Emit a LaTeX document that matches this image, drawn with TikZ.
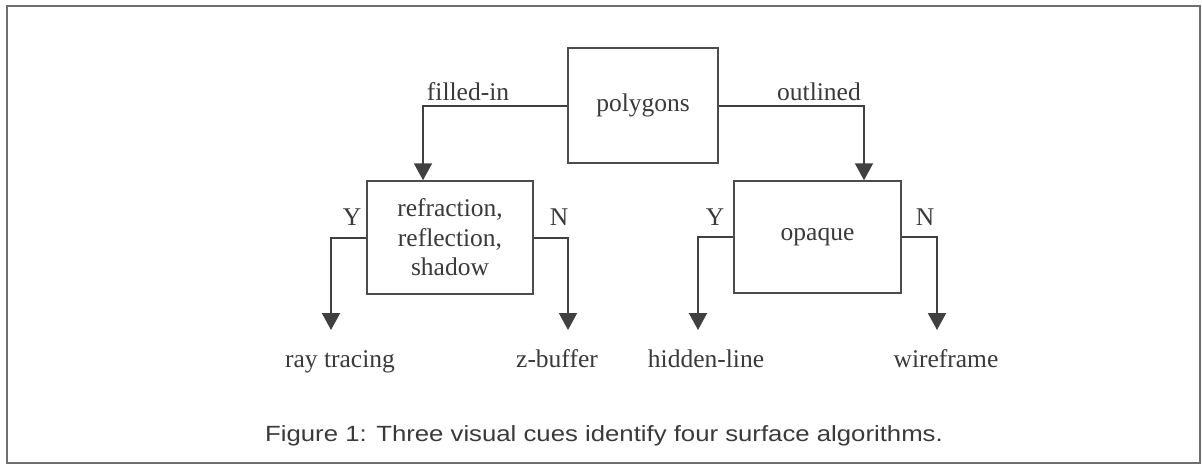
\documentclass[tikz,border=0pt]{standalone}
\usepackage{fontspec}
\setmainfont{Liberation Serif}
\newfontfamily\capfont[FakeStretch=1.17]{Liberation Sans}
\usetikzlibrary{arrows.meta}
\definecolor{ink}{HTML}{3A3A3A}
\definecolor{wire}{HTML}{404040}
\definecolor{edge}{HTML}{4C4C4C}
\definecolor{rim}{HTML}{6E6E6E}
\tikzset{
  txt/.style={text=ink, inner sep=0pt, font=\fontsize{25.5}{29.5}\selectfont},
  decision/.style={txt, draw=edge, line width=1.5pt, align=center},
  flow/.style={draw=wire, line width=2pt, -{Triangle[width=18pt,length=17pt]}},
  answer/.style={txt, anchor=base},
  caption/.style={text=ink, inner sep=0pt, anchor=base, font=\capfont\fontsize{22}{26}\selectfont}
}
\begin{document}
\begin{tikzpicture}[x=1pt,y=-1pt]
\useasboundingbox (0,0) rectangle (1202,466);
\fill[white] (0,0) rectangle (1202,466);
\draw[rim, line width=2pt] (7,6) rectangle (1200,463);

% decision boxes
\node[decision, minimum width=150pt, minimum height=115pt] (poly) at (643,105.5) {polygons};
\node[decision, minimum width=166pt, minimum height=113pt] (refl) at (450,237.5)
  {refraction,\\reflection,\\shadow};
\node[decision, minimum width=167pt, minimum height=112pt] (opq) at (817.5,237) {opaque};

% branch labels
\node[answer] (fill) at (468,100) {filled-in};
\node[answer] (outl) at (819,100) {outlined};
\node[txt] (y1) at (352,217) {Y};
\node[txt] (n1) at (559,217) {N};
\node[txt] (y2) at (715,217) {Y};
\node[txt] (n2) at (925,217) {N};

% resulting algorithms
\node[answer] (ray) at (340,367) {ray tracing};
\node[answer] (zbuf) at (557,367) {z-buffer};
\node[answer] (hid) at (706,367) {hidden-line};
\node[answer] (wire) at (946,367) {wireframe};

\coordinate (rayIn) at (331,330);
\coordinate (zbufIn) at (568,330);
\coordinate (hidIn) at (698,330);
\coordinate (wireIn) at (937,330);

% connectors
\draw[flow] (poly.west) -| ([xshift=-27pt]refl.north);
\draw[flow] (poly.east) -| ([xshift=46.5pt]opq.north);
\draw[flow] (refl.west) -| (rayIn);
\draw[flow] (refl.east) -| (zbufIn);
\draw[flow] (opq.west) -| (hidIn);
\draw[flow] (opq.east) -| (wireIn);

\node[caption] (cap) at (604,441) {Figure 1: Three visual cues identify four surface algorithms.};
\end{tikzpicture}
\end{document}
